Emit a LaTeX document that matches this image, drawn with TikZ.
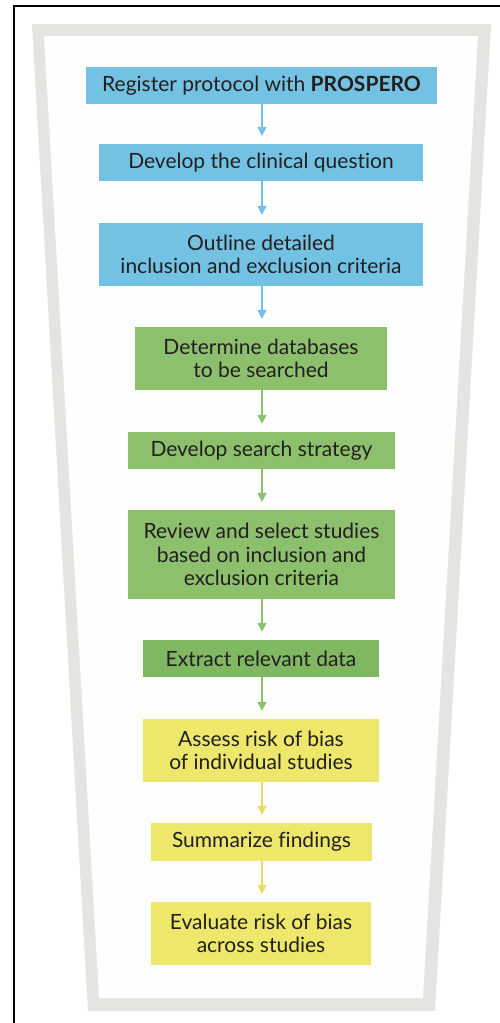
\documentclass[tikz,border=0pt]{standalone}
\usepackage{fontspec}
\setmainfont{Lato}[Ligatures=NoCommon]
\usetikzlibrary{arrows.meta}
\definecolor{cblue}{HTML}{74C2E3}
\definecolor{cgreen}{HTML}{8CC06C}
\definecolor{cgreenD}{HTML}{80B862}
\definecolor{cyellow}{HTML}{EDE86C}
\definecolor{cyarrow}{HTML}{E6DD62}
\definecolor{cgray}{HTML}{E4E4E1}
\definecolor{ctext}{HTML}{231F20}
\tikzset{
  stepbox/.style={rectangle, inner sep=0pt, align=center, text=ctext,
    font=\fontsize{21}{23.5}\selectfont},
  bluebox/.style={stepbox, fill=cblue},
  greenbox/.style={stepbox, fill=cgreen},
  greenboxD/.style={stepbox, fill=cgreenD},
  yellowbox/.style={stepbox, fill=cyellow},
  flow/.style={line width=1.5pt, -{Triangle[width=9pt,length=9pt]}, shorten >=8pt},
}
\begin{document}
\begin{tikzpicture}[x=1pt,y=-1pt]
\useasboundingbox (0,0) rectangle (500,1023);
\fill[white] (0,0) rectangle (500,1023);
% funnel frame
\fill[cgray] (32,24) -- (491,24) -- (435,1011) -- (88,1011) -- cycle;
\fill[white!98!cgray] (44,36) -- (478,36) -- (423,998) -- (99,998) -- cycle;
% outer partial border
\draw[line width=2pt] (14,1023) -- (14,6) -- (500,6);
% boxes
\node[bluebox, minimum width=351pt, minimum height=37pt] (b1) at (261.5,85.5) {Register protocol with \textbf{PROSPERO}};
\node[bluebox, minimum width=324pt, minimum height=37pt] (b2) at (261,162.5) {Develop the clinical question};
\node[bluebox, minimum width=324pt, minimum height=63pt] (b3) at (261,254.5) {Outline detailed\\inclusion and exclusion criteria};
\node[greenbox, minimum width=252pt, minimum height=63pt] (b4) at (261,358.5) {Determine databases\\to be searched};
\node[greenbox, minimum width=267pt, minimum height=37pt] (b5) at (261.5,450.5) {Develop search strategy};
\node[greenbox, minimum width=267pt, minimum height=89pt] (b6) at (261.5,554.5) {Review and select studies\\based on inclusion and\\exclusion criteria};
\node[greenboxD, minimum width=236pt, minimum height=37pt] (b7) at (261,658.5) {Extract relevant data};
\node[yellowbox, minimum width=236pt, minimum height=63pt] (b8) at (261,750.5) {Assess risk of bias\\of individual studies};
\node[yellowbox, minimum width=221pt, minimum height=38pt] (b9) at (261.5,842) {Summarize findings};
\node[yellowbox, minimum width=220pt, minimum height=63pt] (b10) at (261,933.5) {Evaluate risk of bias\\across studies};
% arrows
\draw[flow, cblue] (b1.south -| 262,0) -- (b2.north -| 262,0);
\draw[flow, cblue] (b2.south -| 262,0) -- (b3.north -| 262,0);
\draw[flow, cblue] (b3.south -| 262,0) -- (b4.north -| 262,0);
\draw[flow, cgreen] (b4.south -| 262,0) -- (b5.north -| 262,0);
\draw[flow, cgreen] (b5.south -| 262,0) -- (b6.north -| 262,0);
\draw[flow, cgreen] (b6.south -| 262,0) -- (b7.north -| 262,0);
\draw[flow, cgreen] (b7.south -| 262,0) -- (b8.north -| 262,0);
\draw[flow, cyarrow] (b8.south -| 262,0) -- (b9.north -| 262,0);
\draw[flow, cyarrow] (b9.south -| 262,0) -- (b10.north -| 262,0);
\end{tikzpicture}
\end{document}
